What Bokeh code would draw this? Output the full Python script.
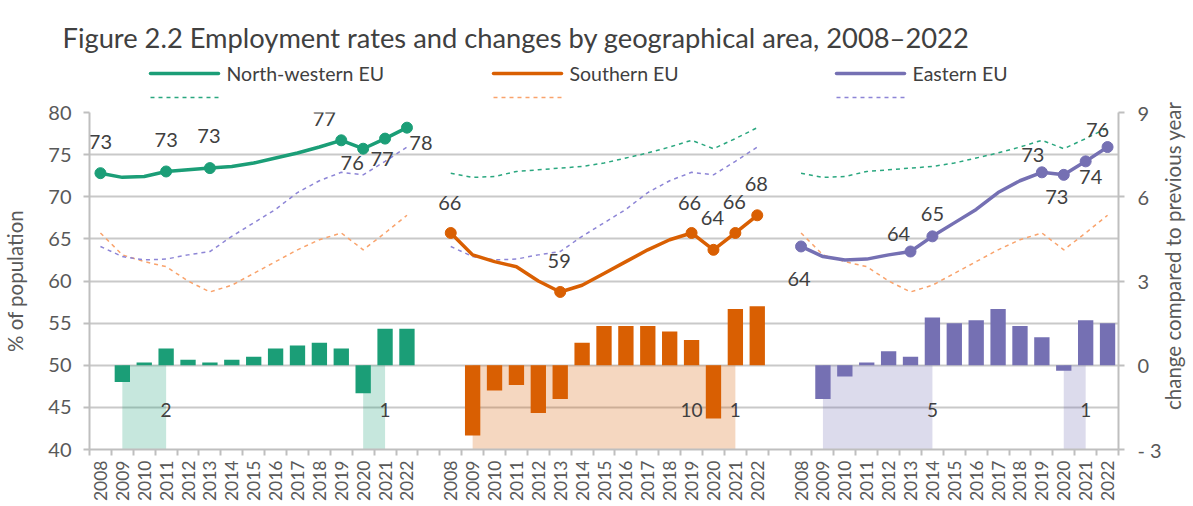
import math
from bokeh.plotting import figure
from bokeh.models import Range1d, LinearAxis, FixedTicker
from bokeh.embed import file_html
from bokeh.resources import INLINE
from bokeh.core.properties import value

# ---------------- data ----------------
title = "Figure 2.2 Employment rates and changes by geographical area, 2008\u20132022"
regions = ["North-western EU", "Southern EU", "Eastern EU"]
years = list(range(2008, 2023))
change_years = list(range(2009, 2023))

nw_rate = [72.8, 72.3, 72.4, 73.0, 73.2, 73.4, 73.6, 74.0, 74.6, 75.2, 75.9, 76.7, 75.7, 76.9, 78.2]
s_rate = [65.7, 63.1, 62.3, 61.7, 60.0, 58.7, 59.5, 60.9, 62.3, 63.7, 64.9, 65.7, 63.7, 65.7, 67.8]
e_rate = [64.1, 62.9, 62.5, 62.6, 63.1, 63.5, 65.3, 66.9, 68.5, 70.5, 71.9, 72.9, 72.6, 74.2, 75.9]

nw_change = [-0.6, 0.1, 0.6, 0.2, 0.1, 0.2, 0.3, 0.6, 0.7, 0.8, 0.6, -1.0, 1.3, 1.3]
s_change = [-2.5, -0.9, -0.7, -1.7, -1.2, 0.8, 1.4, 1.4, 1.4, 1.2, 0.9, -1.9, 2.0, 2.1]
e_change = [-1.2, -0.4, 0.1, 0.5, 0.3, 1.7, 1.5, 1.6, 2.0, 1.4, 1.0, -0.2, 1.6, 1.5]

nw_label_years = [2008, 2011, 2013, 2019, 2020, 2021, 2022]
nw_labels = ["73", "73", "73", "77", "76", "77", "78"]
s_label_years = [2008, 2013, 2019, 2020, 2021, 2022]
s_labels = ["66", "59", "66", "64", "66", "68"]
e_label_years = [2008, 2013, 2014, 2019, 2020, 2021, 2022]
e_labels = ["64", "64", "65", "73", "73", "74", "76"]

# periods below the pre-crisis level, and years needed to recover
nw_shade = [(2009, 2011), (2020, 2021)]
s_shade = [(2009, 2021)]
e_shade = [(2009, 2014), (2020, 2021)]
nw_recov_years = [2011, 2021]
nw_recov = ["2", "1"]
s_recov_years = [2019, 2021]
s_recov = ["10", "1"]
e_recov_years = [2014, 2021]
e_recov = ["5", "1"]

left_ticks = [40, 45, 50, 55, 60, 65, 70, 75, 80]
right_ticks = [-3, 0, 3, 6, 9]
left_title = "% of population"
right_title = "change compared to previous year"

# ---------------- styles ----------------
FONT = "Lato"
TXT = "#404040"
AX = "#595959"
GRID = "#c9c9c9"
colors = ["#1b9e77", "#d95f02", "#7570b3"]
dash_colors = ["#2aa77f", "#f9a36c", "#8d85d6"]
# label offsets in pixels (dx, dy; dy>0 is downwards)
nw_off = [(0, -31), (0, -31), (-1, -32), (-17, -21), (-11, 14), (-3, 20), (14, 15)]
s_off = [(-1, -30), (-1, -31), (-2, -30), (-1, -32), (-1, -31), (-1, -31)]
e_off = [(-2, 33), (-12, -18), (0, -22), (-9, -17), (-7, 22), (5, 16), (-10, -17)]

W = 1193
HEAD_H = 100
MAIN_H = 404
GROUP = 16  # 15 years + 1 gap
NCAT = 47

def xpos(g, yr):
    return g * GROUP + (yr - years[0])

rates = [nw_rate, s_rate, e_rate]
changes = [nw_change, s_change, e_change]
label_years = [nw_label_years, s_label_years, e_label_years]
labels = [nw_labels, s_labels, e_labels]
offs = [nw_off, s_off, e_off]
shades = [nw_shade, s_shade, e_shade]
recov_years = [nw_recov_years, s_recov_years, e_recov_years]
recov = [nw_recov, s_recov, e_recov]

# ---------------- header (title + legend) ----------------
head = figure(width=W, height=HEAD_H, x_range=Range1d(0, W), y_range=Range1d(HEAD_H, 0),
              output_backend="svg", toolbar_location=None, min_border=0,
              x_axis_location=None, y_axis_location=None)
head.grid.visible = False
head.outline_line_color = None
head.text(x=[62], y=[36.5], text=[title], text_font=value(FONT), text_font_size="27.3px",
          text_color=TXT, text_baseline="alphabetic", text_align="left")
for i, name in enumerate(regions):
    x0 = 150 + i * 343
    head.line([x0, x0 + 68], [73, 73], line_color=colors[i], line_width=3.5, line_cap="round")
    head.line([x0, x0 + 68], [97, 97], line_color=dash_colors[i], line_width=1.5, line_dash="4 4")
    head.text(x=[x0 + 76], y=[73], text=[name], text_font=value(FONT), text_font_size="19.5px",
              text_color=TXT, text_baseline="middle", text_align="left")

# ---------------- main chart ----------------
p = figure(width=W, height=MAIN_H, x_range=Range1d(-0.5, NCAT - 0.5), y_range=Range1d(40, 80),
           output_backend="svg", toolbar_location=None,
           min_border_left=86, min_border_right=75, min_border_top=12, min_border_bottom=53)
p.outline_line_color = None
p.extra_y_ranges = {"chg": Range1d(-3, 9)}
p.xgrid.visible = False
p.ygrid.ticker = FixedTicker(ticks=left_ticks)
p.ygrid.grid_line_color = GRID
p.ygrid.grid_line_width = 2

for g in range(3):
    for (a, b) in shades[g]:
        p.varea(x=[xpos(g, a), xpos(g, b)], y1=[40, 40], y2=[50, 50],
                fill_color=colors[g], fill_alpha=0.25)

for g in range(3):
    p.vbar(x=[xpos(g, y) for y in change_years], top=changes[g], bottom=0, width=0.7,
           y_range_name="chg", fill_color=colors[g], line_color=None)

for g in range(3):
    for r in range(3):
        if r == g:
            continue
        p.line([xpos(g, y) for y in years], rates[r], line_color=dash_colors[r],
               line_width=1.5, line_dash="4 4")

for g in range(3):
    xs = [xpos(g, y) for y in years]
    p.line(xs, rates[g], line_color=colors[g], line_width=3.5, line_join="round", line_cap="round")
    lx = [xpos(g, y) for y in label_years[g]]
    ly = [rates[g][years.index(y)] for y in label_years[g]]
    p.scatter(lx, ly, size=11, fill_color=colors[g], line_color=colors[g])
    for k in range(len(lx)):
        p.text(x=[lx[k]], y=[ly[k]], text=[labels[g][k]], x_offset=offs[g][k][0],
               y_offset=offs[g][k][1], text_font=value(FONT), text_font_size="20px",
               text_color=TXT, text_align="center", text_baseline="middle")
    p.text(x=[xpos(g, y) for y in recov_years[g]], y=[44.7] * len(recov_years[g]),
           text=recov[g], text_font=value(FONT), text_font_size="19px",
           text_color=TXT, text_align="center", text_baseline="middle")

# right-hand axis title, reading bottom to top, placed just outside the frame
rt = p.text(x=[NCAT - 0.5], y=[63.0], text=[right_title], x_offset=54, angle=math.pi / 2,
            text_font=value(FONT), text_font_size="20.5px", text_color=AX,
            text_align="center", text_baseline="middle", level="overlay")

yax = p.yaxis[0]
yax.ticker = FixedTicker(ticks=left_ticks)
yax.axis_label = left_title
yax.axis_label_standoff = 18
yax.axis_label_text_font = FONT
yax.axis_label_text_font_size = "20.5px"
yax.axis_label_text_font_style = "normal"
yax.axis_label_text_color = AX

rax = LinearAxis(y_range_name="chg", ticker=FixedTicker(ticks=right_ticks),
                 major_label_overrides={-3: "- 3"})
p.add_layout(rax, "right")

for ax, so in [(yax, 12), (rax, 13)]:
    ax.major_label_text_font = FONT
    ax.major_label_text_font_size = "20px"
    ax.major_label_text_color = AX
    ax.axis_line_color = "#bfbfbf"
    ax.axis_line_width = 2
    ax.major_tick_line_color = "#bfbfbf"
    ax.major_tick_line_width = 2
    ax.major_tick_out = 6
    ax.major_tick_in = 0
    ax.minor_tick_line_color = None
    ax.major_label_standoff = so

xax = p.xaxis[0]
centers = [xpos(g, y) for g in range(3) for y in years]
xax.ticker = FixedTicker(ticks=centers, minor_ticks=[i - 0.5 for i in range(NCAT + 1)])
xax.major_label_overrides = {xpos(g, y): str(y) for g in range(3) for y in years}
xax.major_label_orientation = math.pi / 2
xax.major_label_text_font = FONT
xax.major_label_text_font_size = "17.5px"
xax.major_label_text_color = AX
xax.major_tick_line_color = None
xax.minor_tick_line_color = "#bfbfbf"
xax.minor_tick_line_width = 2
xax.minor_tick_out = 6
xax.minor_tick_in = 0
xax.major_label_standoff = 5
xax.axis_line_color = "#bfbfbf"
xax.axis_line_width = 2

open("out.html", "w").write(file_html([head, p], INLINE))
